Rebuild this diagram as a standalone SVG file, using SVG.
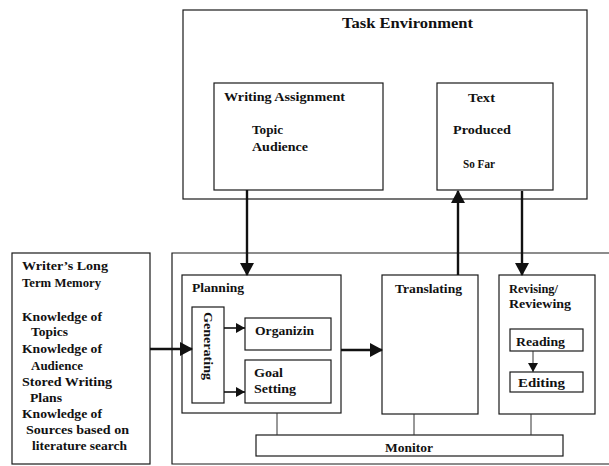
<svg xmlns="http://www.w3.org/2000/svg" width="609" height="466" viewBox="0 0 609 466">
<defs>
<style>
.box{fill:none;stroke:#1a1a1a;stroke-width:1.2}
.t{font-family:"Liberation Serif","Times New Roman",serif;font-weight:bold;font-size:12px;fill:#111}
.big{font-size:15px}
.arr{stroke:#111;stroke-width:2.4;fill:none}
.thin{stroke:#111;stroke-width:1.6;fill:none}
.ln{stroke:#333;stroke-width:1;fill:none}
</style>
<marker id="ah" markerUnits="userSpaceOnUse" markerWidth="14" markerHeight="14" refX="12" refY="7" orient="auto">
<path d="M0,0 L13,7 L0,14 Z" fill="#111"/>
</marker>
<marker id="ahs" markerUnits="userSpaceOnUse" markerWidth="10" markerHeight="10" refX="9" refY="5" orient="auto">
<path d="M0,0 L9,5 L0,10 Z" fill="#111"/>
</marker>
</defs>

<g id="task-environment">
<rect class="box" x="183" y="10" width="404" height="189"/>
<text class="t big" x="342" y="28" textLength="131" lengthAdjust="spacingAndGlyphs">Task Environment</text>
</g>
<g id="writing-assignment">
<rect class="box" x="214" y="83" width="169" height="107"/>
<text class="t" x="224" y="101" textLength="121" lengthAdjust="spacingAndGlyphs">Writing Assignment</text>
<text class="t" x="252" y="134" textLength="31" lengthAdjust="spacingAndGlyphs">Topic</text>
<text class="t" x="252" y="151" textLength="56" lengthAdjust="spacingAndGlyphs">Audience</text>
</g>
<g id="text-produced">
<rect class="box" x="437" y="83" width="116" height="107"/>
<text class="t" x="468" y="102" textLength="27" lengthAdjust="spacingAndGlyphs">Text</text>
<text class="t" x="453" y="134" textLength="58" lengthAdjust="spacingAndGlyphs">Produced</text>
<text class="t" x="463" y="168" textLength="32" lengthAdjust="spacingAndGlyphs">So Far</text>
</g>

<g id="long-term-memory">
<rect class="box" x="12" y="253" width="138" height="211"/>
<text class="t" x="22" y="270" textLength="86" lengthAdjust="spacingAndGlyphs">Writer’s Long</text>
<text class="t" x="22" y="287" textLength="79" lengthAdjust="spacingAndGlyphs">Term Memory</text>
<text class="t" x="22" y="321" textLength="80" lengthAdjust="spacingAndGlyphs">Knowledge of</text>
<text class="t" x="31" y="336" textLength="37" lengthAdjust="spacingAndGlyphs">Topics</text>
<text class="t" x="22" y="353" textLength="80" lengthAdjust="spacingAndGlyphs">Knowledge of</text>
<text class="t" x="31" y="370" textLength="52" lengthAdjust="spacingAndGlyphs">Audience</text>
<text class="t" x="22" y="386" textLength="90" lengthAdjust="spacingAndGlyphs">Stored Writing</text>
<text class="t" x="30" y="402" textLength="32" lengthAdjust="spacingAndGlyphs">Plans</text>
<text class="t" x="22" y="418" textLength="80" lengthAdjust="spacingAndGlyphs">Knowledge of</text>
<text class="t" x="26" y="434" textLength="103" lengthAdjust="spacingAndGlyphs">Sources based on</text>
<text class="t" x="32" y="450" textLength="95" lengthAdjust="spacingAndGlyphs">literature search</text>
</g>

<g id="writing-process">
<path class="box" d="M620,253 L172,253 L172,464 L620,464"/>
</g>
<g id="planning">
<rect class="box" x="182" y="275" width="159" height="138"/>
<text class="t" x="192" y="292" textLength="52" lengthAdjust="spacingAndGlyphs">Planning</text>
</g>
<g id="generating">
<rect class="box" x="192" y="307" width="32" height="96"/>
<text class="t" x="0" y="0" text-anchor="middle" transform="translate(204,346) rotate(90)" textLength="68" lengthAdjust="spacingAndGlyphs">Generating</text>
</g>
<g id="organizing">
<rect class="box" x="245" y="318" width="86" height="32"/>
<text class="t" x="255" y="335" textLength="59" lengthAdjust="spacingAndGlyphs">Organizin</text>
</g>
<g id="goal-setting">
<rect class="box" x="245" y="360" width="86" height="43"/>
<text class="t" x="254" y="377" textLength="29" lengthAdjust="spacingAndGlyphs">Goal</text>
<text class="t" x="254" y="393" textLength="42" lengthAdjust="spacingAndGlyphs">Setting</text>
</g>
<g id="translating">
<rect class="box" x="382" y="275" width="96" height="139"/>
<text class="t" x="395" y="293" textLength="67" lengthAdjust="spacingAndGlyphs">Translating</text>
</g>
<g id="revising">
<rect class="box" x="499" y="275" width="96" height="139"/>
<text class="t" x="509" y="293" textLength="49" lengthAdjust="spacingAndGlyphs">Revising/</text>
<text class="t" x="509" y="308" textLength="62" lengthAdjust="spacingAndGlyphs">Reviewing</text>
</g>
<g id="reading">
<rect class="box" x="510" y="329" width="73" height="22"/>
<text class="t" x="516" y="346" textLength="49" lengthAdjust="spacingAndGlyphs">Reading</text>
</g>
<g id="editing">
<rect class="box" x="510" y="372" width="73" height="20"/>
<text class="t" x="518" y="387" textLength="47" lengthAdjust="spacingAndGlyphs">Editing</text>
</g>
<g id="monitor">
<rect class="box" x="256" y="435" width="307" height="21"/>
<text class="t" x="385" y="452" textLength="48" lengthAdjust="spacingAndGlyphs">Monitor</text>
</g>

<g id="connectors">
<line class="arr" x1="247" y1="190" x2="247" y2="275" marker-end="url(#ah)"/>
<line class="arr" x1="458" y1="275" x2="458" y2="191" marker-end="url(#ah)"/>
<line class="arr" x1="522" y1="191" x2="522" y2="275" marker-end="url(#ah)"/>
<line class="arr" x1="150" y1="349" x2="192" y2="349" marker-end="url(#ah)"/>
<line class="arr" x1="341" y1="350" x2="382" y2="350" marker-end="url(#ah)"/>
<line class="thin" x1="224" y1="328" x2="245" y2="328" marker-end="url(#ahs)"/>
<line class="thin" x1="224" y1="392" x2="245" y2="392" marker-end="url(#ahs)"/>
<line class="ln" x1="533" y1="351" x2="533" y2="372" marker-end="url(#ahs)"/>
<line class="ln" x1="277" y1="413" x2="277" y2="435"/>
<line class="ln" x1="414" y1="414" x2="414" y2="435"/>
<line class="ln" x1="531" y1="414" x2="531" y2="435"/>
</g>
</svg>
